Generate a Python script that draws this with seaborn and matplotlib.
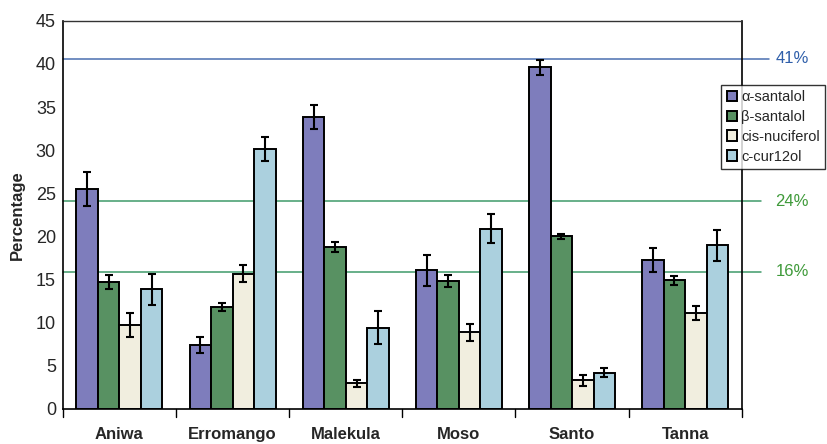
import numpy as np
import pandas as pd
import matplotlib
matplotlib.use("Agg")
import matplotlib.pyplot as plt
import seaborn as sns

sites = ["Aniwa", "Erromango", "Malekula", "Moso", "Santo", "Tanna"]
compounds = ["α-santalol", "β-santalol", "cis-nuciferol", "c-cur12ol"]
alpha_vals = [25.5, 7.4, 33.9, 16.1, 39.6, 17.3]
beta_vals = [14.7, 11.8, 18.8, 14.8, 20.0, 14.9]
cis_vals = [9.7, 15.7, 3.0, 8.9, 3.3, 11.1]
ccur_vals = [13.9, 30.1, 9.4, 20.9, 4.2, 19.0]
alpha_err = [2.0, 0.9, 1.4, 1.8, 0.9, 1.4]
beta_err = [0.8, 0.5, 0.6, 0.7, 0.3, 0.5]
cis_err = [1.4, 1.0, 0.4, 1.0, 0.6, 0.8]
ccur_err = [1.8, 1.4, 1.9, 1.7, 0.5, 1.8]
ref_levels = [40.6, 24.1, 15.9]
ref_labels = ["41%", "24%", "16%"]
ref_colors = ["#4a6fb0", "#3f9a6a", "#3f9a6a"]
label_colors = ["#2f5faa", "#3f9a3a", "#3f9a3a"]
ref_ends = [1.04, 1.028, 1.028]
colors = ["#7473c6", "#4f9a5c", "#f4f0dc", "#a3d4e6"]

vals = [alpha_vals, beta_vals, cis_vals, ccur_vals]
errs = [alpha_err, beta_err, cis_err, ccur_err]
rows = []
for c, v, e in zip(compounds, vals, errs):
    for s, vv, ee in zip(sites, v, e):
        rows.append({"Site": s, "Compound": c, "Value": vv, "Err": ee})
df = pd.DataFrame(rows)

sns.set_theme(style="white")
plt.rcParams["font.family"] = ["Liberation Sans", "DejaVu Sans"]

fig = plt.figure(figsize=(8.27, 4.44), dpi=100)
ax = fig.add_axes([0.076, 0.079, 0.821, 0.874])

sns.barplot(data=df, x="Site", y="Value", hue="Compound", order=sites,
            hue_order=compounds, palette=colors, errorbar=None, width=0.76,
            edgecolor="black", linewidth=1.4, ax=ax, legend=True)

# error bars
for i, c in enumerate(compounds):
    cont = ax.containers[i]
    xs = [p.get_x() + p.get_width() / 2 for p in cont.patches]
    ax.errorbar(xs, vals[i], yerr=errs[i], fmt="none", ecolor="black",
                elinewidth=1.5, capsize=3, capthick=1.5, zorder=5)

ax.set_ylim(0, 45)
ax.set_xlim(-0.5, 5.5)
ax.set_yticks(range(0, 50, 5))
ax.tick_params(axis="y", labelsize=13, length=0, pad=5)
ax.set_xticks(np.arange(6))
ax.set_xticklabels(sites, fontsize=12, fontweight="bold")
ax.tick_params(axis="x", length=0, pad=13)
# boundary ticks
for b in np.arange(-0.5, 6.0, 1.0):
    ax.plot([b, b], [0, -0.9], color="black", lw=1, clip_on=False)
ax.set_xlabel("")
ax.set_ylabel("Percentage", fontsize=12, fontweight="bold", labelpad=8)

for sp in ["left", "bottom", "right"]:
    ax.spines[sp].set_visible(True)
    ax.spines[sp].set_color("black")
    ax.spines[sp].set_linewidth(1.2)
ax.spines["top"].set_linestyle((0, (2, 1)))
ax.spines["top"].set_color("#333333")
ax.spines["top"].set_linewidth(1)

for lvl, lab, lc, tc, xe in zip(ref_levels, ref_labels, ref_colors, label_colors, ref_ends):
    ax.axhline(lvl, xmin=0, xmax=xe, color=lc, lw=1.1, clip_on=False, zorder=0.5)
    ax.text(1.074, lvl, lab, transform=ax.get_yaxis_transform(), color=tc,
            fontsize=12, ha="center", va="center")

leg = ax.legend(loc="upper left", bbox_to_anchor=(0.97, 0.835), fontsize=10.5,
                frameon=True, fancybox=False, edgecolor="black",
                handlelength=0.7, handleheight=0.7, handletextpad=0.3,
                borderpad=0.35, labelspacing=0.4, borderaxespad=0)
leg.get_frame().set_linewidth(1)
leg.set_zorder(10)

fig.savefig("out.png", dpi=100)
